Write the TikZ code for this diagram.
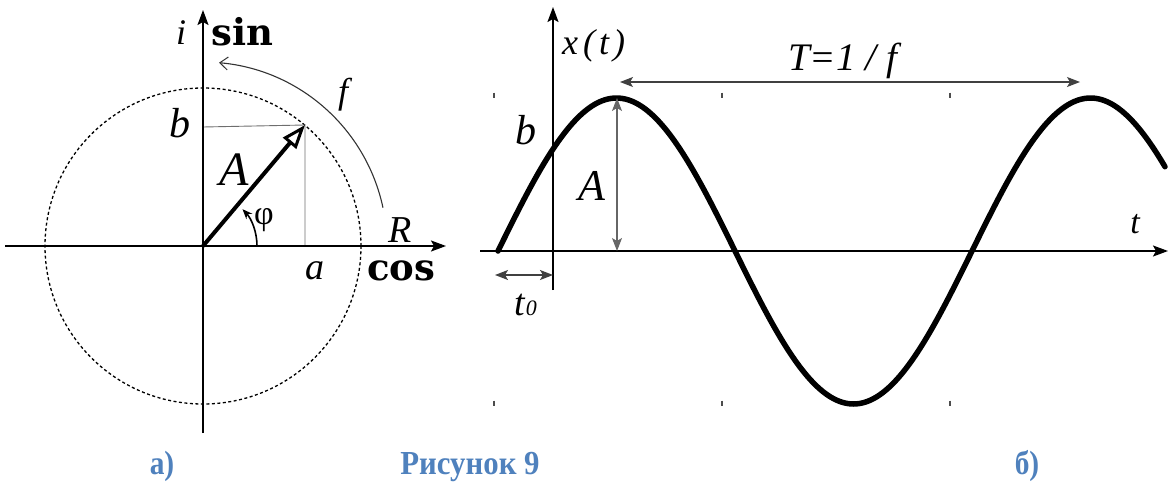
\documentclass[tikz,border=0pt]{standalone}
\usepackage{fontspec}
\usepackage{graphicx}
\setmainfont{LiberationSerif}[Extension=.ttf,UprightFont=*-Regular,BoldFont=*-Bold,ItalicFont=*-Italic,BoldItalicFont=*-BoldItalic]
\newfontfamily\dvs{DejaVu Serif}
\usetikzlibrary{arrows.meta,calc}
\definecolor{capblue}{RGB}{79,129,189}
\definecolor{thingray}{RGB}{110,110,110}
\tikzset{
  axis/.style={line width=1.8pt,-{Stealth[length=15pt,width=11pt,inset=3pt]}},
  guide/.style={line width=0.9pt,draw=thingray},
  dblarrow/.style={line width=1.1pt,draw=black!75,{Stealth[length=13pt,width=10pt,inset=3pt]}-{Stealth[length=13pt,width=10pt,inset=3pt]}},
  lab/.style={inner sep=0pt,font=\fontsize{#1}{#1}\selectfont\itshape},
  boldlab/.style={inner sep=0pt,font=\fontsize{#1}{#1}\selectfont\dvs\bfseries},
  caption/.style={inner sep=0pt,text=capblue,font=\fontsize{28}{28}\selectfont\bfseries},
  tickmark/.style={line width=1.4pt,draw=black!70}
}
\begin{document}
\begin{tikzpicture}[x=1pt,y=-1pt]
\useasboundingbox (0,0) rectangle (1172,493);
% ---------------- left panel ----------------
\coordinate (O1) at (203,246);
\coordinate (xl) at (5,246);
\coordinate (xr) at (446,246);
\coordinate (yb) at (203,433);
\coordinate (yt) at (203,10);
\coordinate (P) at (305,125);
\coordinate (Pb) at (203,127);
\coordinate (Pa) at (305,246);
\draw[line width=1.3pt,dash pattern=on 3pt off 2.5pt] (O1) circle[radius=158pt];
\draw[guide] (Pb) -- (P) -- (Pa);
\draw[axis] (xl) -- (xr);
\draw[axis] (yb) -- (yt);
\draw[line width=4pt,-{Triangle[open,length=24pt,width=17pt,line width=3pt]}] (O1) -- (P);
\coordinate (phis) at ($(O1)+(54,0)$);
\draw[line width=1.6pt,-{Stealth[length=10pt,width=8pt]}] (phis) arc[start angle=0,end angle=43,radius=54pt];
\coordinate (fs) at ($(O1)+({184*cos(-12)},{184*sin(-12)})$);
\draw[line width=1.1pt,draw=black!80,-{Straight Barb[length=8pt,width=13pt,line width=1pt]}] (fs) arc[start angle=12,end angle=85,radius=184pt];
\node[lab=36,anchor=base] (ilab) at (181,44) {i};
\node[boldlab=37,anchor=base west] (sinlab) at (211,45) {sin};
\node[lab=42,anchor=base] (blab1) at (180,137) {b};
\node[lab=48,anchor=base] (Alab1) at (234,185) {A};
\node[inner sep=0pt,font=\fontsize{34}{34}\selectfont,anchor=base] (phil) at (264,224) {φ};
\node[lab=36,anchor=base] (flab) at (343,103) {f};
\node[lab=38,anchor=base] (Rlab) at (400,242) {R};
\node[lab=38,anchor=base] (alab) at (315,279) {a};
\node[boldlab=37,anchor=base west] (coslab) at (367,280) {cos};
% ---------------- right panel ----------------
\coordinate (O2) at (553,251);
\coordinate (tl) at (480,251);
\coordinate (tr) at (1168,251);
\coordinate (vb) at (553,290);
\coordinate (vt) at (553,7);
\draw[axis] (tl) -- (tr);
\draw[axis] (vb) -- (vt);
\draw[line width=5.5pt,line cap=round] plot[smooth,domain=498:1165,samples=200] (\x,{251-153*sin((\x-498)/474*360)});
\coordinate (peak) at (617,98);
\coordinate (peakb) at (617,251);
\draw[dblarrow,draw=black!60] (peak) -- (peakb);
\coordinate (Tl) at (620,82);
\coordinate (Tr) at (1080,82);
\draw[dblarrow] (Tl) -- (Tr);
\coordinate (t0l) at (495,275);
\coordinate (t0r) at (553,275);
\draw[dblarrow,line width=1.4pt] (t0l) -- (t0r);
\node[lab=36,anchor=base west] (xtlab) at (562,54) {x\kern5pt(\kern4pt t\kern4pt)};
\node[lab=42,anchor=base] (blab2) at (526,144) {b};
\node[lab=44,anchor=base] (Alab2) at (592,200) {A};
\node[lab=39,anchor=base west] (Tlab) at (788,70) {T=1 / f};
\node[lab=34,anchor=base] (tlab) at (1135,233) {t};
\node[lab=38,anchor=base west] (t0lab) at (514,315) {t\kern1pt{\fontsize{22}{22}\selectfont 0}};
\foreach \xx/\yy [count=\k] in {494/95,722/95,950/95,494/403,722/403,950/403}
  \draw[tickmark] (\xx,\yy-2.5) coordinate (tk\k a) -- (\xx,\yy+2.5) coordinate (tk\k b);
% ---------------- captions ----------------
\node[caption,anchor=base] (capa) at (162,474) {\scalebox{1.05}[1.2]{а)}};
\node[caption,anchor=base] (capm) at (470,474) {\scalebox{1.1}[1.2]{Рисунок 9}};
\node[caption,anchor=base] (capb) at (1027,474) {\scalebox{1.05}[1.2]{б)}};
\end{tikzpicture}
\end{document}
